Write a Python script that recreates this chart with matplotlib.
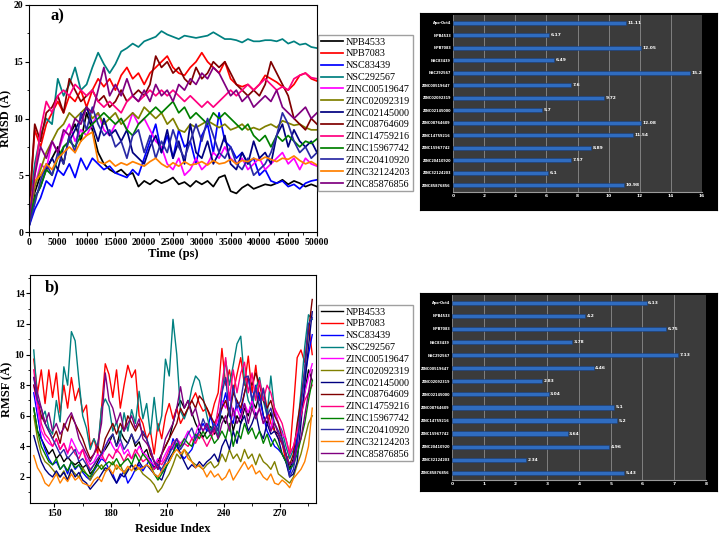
import matplotlib.pyplot as plt
from matplotlib.ticker import MultipleLocator
import numpy as np

# nombres y colores de cada sistema
names = ['NPB4533', 'NPB7083', 'NSC83439', 'NSC292567', 'ZINC00519647', 'ZINC02092319',
         'ZINC02145000', 'ZINC08764609', 'ZINC14759216', 'ZINC15967742', 'ZINC20410920',
         'ZINC32124203', 'ZINC85876856']
colors = ['#000000', '#ff0000', '#0000ff', '#008080', '#ff00ff', '#808000',
          '#000080', '#800000', '#ff0080', '#008000', '#2a2aa5', '#ff8000', '#800080']

# RMSD (A) cada 1000 ps
time_ps = list(range(0, 50001, 1000))
rmsd_npb4533 = [0.5, 3.5, 5.0, 5.5, 6.5, 7.5, 6.0, 8.5, 9.5, 8.0,
                10.5, 9.0, 7.0, 6.0, 5.5, 5.2, 5.5, 5.0, 5.2, 4.0,
                4.5, 4.2, 4.6, 4.3, 4.5, 4.8, 4.2, 4.4, 4.0, 4.5,
                4.2, 4.5, 4.0, 4.8, 5.0, 3.6, 3.4, 3.9, 4.2, 3.8,
                4.0, 4.2, 4.1, 4.3, 4.6, 4.2, 4.5, 4.3, 4.0, 4.2, 4.0]
rmsd_npb7083 = [2.0, 9.0, 7.5, 9.5, 10.5, 11.5, 10.5, 12.0, 11.5, 12.5,
                11.0, 12.5, 13.5, 12.8, 13.5, 12.5, 13.8, 14.5, 13.5, 14.0,
                13.0, 14.0, 14.5, 15.0, 15.5, 14.5, 14.0, 13.8, 14.5, 15.0,
                15.8, 15.0, 14.5, 14.0, 15.0, 13.5, 13.0, 12.8, 13.0, 12.5,
                13.0, 13.8, 13.5, 13.2, 12.8, 12.5, 13.0, 13.8, 14.0, 13.5, 13.3]
rmsd_nsc83439 = [0.5, 2.0, 3.0, 4.5, 4.0, 5.5, 5.0, 6.0, 4.8, 6.5,
                 5.5, 6.5, 6.0, 5.5, 5.8, 5.2, 5.0, 4.8, 5.5, 5.0,
                 6.5, 8.0, 9.5, 7.0, 8.5, 6.5, 9.0, 7.5, 8.0, 6.0,
                 8.5, 9.5, 7.0, 10.5, 8.0, 7.5, 6.5, 7.0, 6.0, 6.5,
                 5.0, 5.5, 4.5, 4.3, 4.5, 4.0, 4.2, 3.8, 4.3, 4.5, 4.6]
rmsd_nsc292567 = [1.5, 6.0, 8.5, 10.0, 9.5, 13.5, 12.0, 13.0, 14.5, 12.5,
                  13.0, 14.5, 15.8, 14.8, 14.0, 14.8, 15.9, 16.2, 16.6, 16.3,
                  16.8, 17.0, 17.2, 17.7, 17.4, 17.2, 17.0, 17.3, 17.2, 17.1,
                  17.2, 17.3, 17.6, 17.3, 17.0, 17.0, 16.9, 16.7, 17.0, 16.8,
                  16.8, 16.9, 16.9, 16.8, 17.0, 16.6, 16.8, 16.5, 16.6, 16.3, 16.2]
rmsd_z00519647 = [1.0, 4.0, 6.0, 5.5, 8.0, 7.0, 8.5, 9.5, 8.0, 9.0,
                  8.5, 9.5, 10.5, 9.0, 8.5, 9.5, 10.0, 9.0, 10.5, 9.5,
                  10.0, 9.0, 8.0, 7.5, 6.0, 5.5, 6.5, 5.0, 5.5, 6.5,
                  5.5, 6.0, 7.0, 6.5, 7.5, 6.5, 6.0, 6.5, 5.5, 6.0,
                  6.5, 5.5, 6.0, 6.5, 7.0, 6.0, 6.5, 5.5, 6.5, 6.0, 5.8]
rmsd_z02092319 = [1.0, 4.0, 5.5, 7.0, 8.0, 9.0, 9.5, 10.5, 10.0, 10.5,
                  11.0, 10.0, 10.5, 9.5, 10.0, 10.5, 9.5, 10.0, 10.5, 10.0,
                  11.0, 10.5, 10.0, 10.5, 9.5, 10.0, 9.0, 8.8, 9.5, 9.2,
                  9.5, 9.8, 9.5, 9.2, 9.5, 9.0, 9.2, 9.5, 9.0, 9.2,
                  9.0, 9.3, 9.5, 9.2, 9.8, 9.6, 9.4, 9.5, 9.2, 9.0, 9.0]
rmsd_z02145000 = [0.5, 3.0, 4.0, 5.5, 6.5, 5.5, 7.5, 8.0, 9.0, 10.0,
                  11.0, 9.5, 8.0, 10.0, 8.5, 9.0, 8.0, 9.0, 7.0, 6.5,
                  6.0, 7.5, 8.5, 7.0, 9.0, 6.5, 8.0, 6.0, 9.5, 7.0,
                  6.5, 8.0, 6.0, 7.0, 8.5, 6.0, 5.5, 7.0, 6.0, 8.0,
                  6.5, 7.0, 6.0, 8.5, 9.5, 7.5, 9.0, 8.0, 7.5, 8.0, 7.0]
rmsd_z08764609 = [1.5, 9.5, 8.0, 10.5, 11.0, 12.0, 10.5, 13.5, 12.5, 11.5,
                  12.0, 12.5, 11.5, 12.0, 11.0, 11.5, 12.5, 11.5, 12.0, 12.5,
                  12.0, 13.0, 15.5, 14.5, 15.0, 14.0, 14.5, 13.5, 13.0, 14.5,
                  13.5, 14.0, 15.0, 14.5, 15.0, 14.0, 13.0, 12.5, 12.0, 12.5,
                  12.0, 13.0, 15.0, 14.0, 13.0, 12.0, 10.0, 9.5, 9.0, 10.0, 9.5]
rmsd_z14759216 = [1.5, 5.0, 9.0, 11.5, 10.5, 12.0, 12.5, 12.0, 13.0, 12.5,
                  12.0, 12.5, 11.5, 11.0, 11.5, 11.0, 10.5, 11.5, 12.0, 11.5,
                  12.0, 12.5, 12.0, 12.5, 12.0, 12.5, 12.0, 11.5, 12.0, 11.5,
                  11.0, 11.5, 11.0, 11.5, 12.0, 12.5, 12.0, 12.5, 13.0, 12.5,
                  13.0, 13.5, 13.0, 12.5, 12.8, 12.5, 13.5, 13.8, 14.0, 13.6, 13.5]
rmsd_z15967742 = [1.0, 3.0, 4.0, 5.5, 5.0, 6.5, 7.5, 8.0, 7.5, 8.5,
                  9.0, 9.5, 10.0, 10.5, 10.0, 9.5, 10.0, 9.0, 8.5, 9.5,
                  10.0, 10.5, 11.0, 10.5, 11.0, 11.5, 10.5, 11.0, 10.0, 10.5,
                  10.0, 9.5, 10.5, 10.0, 10.5, 10.0, 9.5, 9.0, 9.5, 8.5,
                  8.0, 8.5, 7.5, 8.5, 8.0, 8.5, 8.0, 7.5, 8.0, 7.8, 8.2]
rmsd_z20410920 = [0.5, 2.5, 4.5, 6.0, 5.0, 7.0, 6.0, 8.5, 7.0, 10.5,
                  9.0, 11.0, 9.5, 8.5, 9.0, 7.5, 8.0, 6.5, 8.5, 9.0,
                  7.0, 8.5, 6.5, 8.0, 7.0, 9.0, 7.5, 6.5, 8.0, 9.5,
                  8.0, 10.0, 8.5, 7.0, 6.5, 7.5, 6.0, 5.5, 6.5, 5.0,
                  5.5, 6.0, 7.0, 8.5, 10.5, 9.5, 8.0, 7.0, 7.5, 6.5, 7.0]
rmsd_z32124203 = [2.0, 4.5, 5.0, 6.0, 5.5, 6.5, 7.0, 7.5, 7.0, 8.0,
                  8.5, 8.8, 6.2, 6.0, 6.3, 5.8, 6.1, 5.9, 6.2, 6.0,
                  5.8, 6.2, 6.5, 6.0, 5.7, 6.1, 5.8, 6.2, 5.9, 6.0,
                  6.2, 5.9, 6.3, 6.0, 6.1, 6.4, 6.0, 6.3, 6.2, 6.5,
                  6.3, 6.6, 6.4, 6.2, 6.5, 6.4, 6.7, 6.3, 6.0, 6.2, 5.9]
rmsd_z85876856 = [1.0, 5.0, 7.5, 6.5, 8.0, 7.0, 9.0, 8.5, 10.0, 9.5,
                  11.0, 10.5, 12.5, 14.5, 12.0, 13.0, 12.0, 13.5, 12.0, 11.5,
                  12.5, 11.5, 13.0, 12.0, 12.5, 11.5, 13.0, 12.5, 13.5, 13.0,
                  14.0, 13.5, 14.5, 14.0, 13.0, 12.0, 12.5, 11.5, 12.0, 11.0,
                  11.5, 12.0, 11.5, 12.5, 11.0, 10.5, 10.0, 10.5, 11.0, 10.0, 10.5]

# RMSF (A) cada 2 residuos
residues = list(range(139, 288, 2))
rmsf_npb4533 = [6.5, 5.0, 4.5, 4.0, 3.5, 3.8, 3.2, 3.5, 3.0, 3.3,
                3.0, 2.8, 3.0, 2.6, 2.8, 2.2, 2.5, 3.0, 3.5, 3.8,
                4.2, 4.8, 4.0, 5.0, 4.5, 4.2, 4.8, 4.0, 4.3, 3.5,
                3.8, 3.0, 2.6, 3.0, 3.5, 4.0, 4.5, 5.5, 6.5, 7.0,
                6.5, 7.0, 6.2, 5.5, 5.0, 4.6, 5.0, 5.3, 4.8, 5.2,
                6.0, 5.5, 6.5, 5.0, 6.0, 5.5, 6.5, 6.0, 7.0, 6.5,
                7.5, 6.0, 5.5, 6.2, 5.0, 4.8, 4.2, 3.5, 2.5, 3.2,
                4.5, 6.0, 7.5, 9.0, 8.3]
rmsf_npb7083 = [9.7, 7.5, 9.0, 6.8, 9.0, 7.2, 8.8, 6.2, 8.0, 6.5,
                8.5, 7.0, 7.8, 6.2, 6.7, 4.0, 4.5, 3.5, 6.5, 9.4,
                8.7, 7.2, 9.0, 6.5, 8.0, 9.3, 8.5, 9.0, 6.0, 5.5,
                4.5, 5.0, 3.5, 5.5, 4.5, 6.0, 6.8, 5.8, 6.5, 5.5,
                6.0, 6.5, 7.0, 7.5, 6.8, 6.3, 6.5, 5.8, 6.8, 7.5,
                10.4, 8.0, 9.0, 7.5, 8.7, 9.8, 8.0, 9.9, 7.5, 9.3,
                7.0, 7.8, 6.5, 5.5, 5.0, 4.5, 4.2, 3.0, 3.5, 6.5,
                9.8, 10.3, 9.5, 12.0, 10.0]
rmsf_nsc83439 = [7.5, 6.0, 4.5, 3.8, 3.2, 2.8, 3.0, 2.5, 2.8, 2.2,
                 3.0, 2.5, 2.8, 2.3, 2.0, 1.8, 2.4, 2.8, 3.2, 3.0,
                 2.5, 2.2, 1.6, 2.0, 2.4, 1.6, 2.0, 2.5, 2.8, 2.4,
                 2.8, 3.2, 2.5, 2.8, 2.3, 3.0, 3.5, 4.5, 4.0, 3.5,
                 3.2, 3.5, 3.8, 4.5, 5.0, 5.5, 5.0, 6.0, 5.0, 5.5,
                 6.5, 7.5, 6.0, 5.5, 7.0, 6.2, 7.5, 8.5, 7.0, 8.0,
                 7.2, 6.0, 5.0, 4.5, 4.0, 3.8, 3.5, 3.0, 2.2, 3.0,
                 4.5, 7.0, 8.5, 10.0, 11.3]
rmsf_nsc292567 = [10.3, 7.0, 5.8, 6.3, 5.2, 4.8, 7.0, 5.6, 9.2, 8.0,
                  11.5, 10.9, 8.3, 6.0, 5.2, 3.8, 4.5, 3.9, 6.5, 7.1,
                  6.6, 5.0, 5.6, 4.5, 6.2, 5.0, 6.4, 5.5, 7.6, 5.8,
                  6.8, 4.8, 7.2, 5.0, 6.0, 9.7, 8.6, 12.3, 10.0, 6.3,
                  5.8, 6.5, 7.8, 8.6, 8.3, 7.2, 6.0, 5.0, 5.5, 4.6,
                  7.5, 9.6, 8.0, 9.3, 10.7, 11.2, 8.3, 7.0, 6.5, 7.8,
                  8.5, 7.0, 6.0, 8.6, 6.3, 5.5, 5.0, 4.0, 3.2, 3.8,
                  5.0, 7.5, 10.5, 12.6, 12.3]
rmsf_z00519647 = [8.0, 6.5, 5.0, 4.5, 4.2, 4.0, 4.5, 3.8, 4.2, 3.5,
                  4.5, 4.0, 3.5, 3.8, 3.2, 2.8, 3.0, 3.5, 3.2, 4.0,
                  4.5, 4.0, 3.6, 4.2, 3.5, 3.8, 3.2, 3.5, 4.0, 3.6,
                  3.4, 3.0, 2.8, 3.2, 3.0, 3.5, 4.0, 3.8, 4.5, 4.2,
                  4.5, 5.0, 4.5, 4.8, 5.5, 5.0, 5.5, 4.8, 5.2, 5.8,
                  7.0, 6.5, 7.5, 6.0, 6.5, 5.8, 6.8, 6.2, 7.0, 6.0,
                  6.5, 5.5, 6.0, 5.0, 6.5, 5.5, 4.8, 4.5, 3.5, 4.0,
                  5.0, 6.0, 7.5, 8.5, 9.4]
rmsf_z02092319 = [6.0, 4.5, 3.5, 3.0, 2.8, 2.5, 2.2, 2.0, 2.4, 1.8,
                  2.5, 2.2, 2.0, 2.6, 2.2, 1.8, 2.2, 2.5, 2.8, 2.4,
                  2.6, 3.0, 2.5, 2.8, 2.2, 2.5, 2.8, 2.4, 2.6, 2.2,
                  2.0, 1.8, 1.5, 1.0, 1.3, 1.8, 2.2, 2.8, 3.5, 3.2,
                  3.8, 3.5, 3.0, 2.8, 2.7, 2.5, 2.8, 3.0, 2.6, 2.8,
                  3.5, 3.0, 3.8, 3.2, 3.5, 3.0, 3.8, 3.2, 3.5, 2.8,
                  3.5, 3.0, 2.8, 2.5, 3.0, 2.2, 2.0, 1.8, 1.6, 2.0,
                  2.8, 3.5, 4.5, 5.5, 6.0]
rmsf_z02145000 = [4.7, 3.8, 3.0, 2.5, 2.2, 2.0, 2.4, 2.0, 2.3, 1.8,
                  2.5, 2.0, 2.3, 1.8, 1.6, 1.2, 1.5, 1.8, 2.2, 2.6,
                  2.5, 2.0, 1.6, 2.2, 2.0, 2.4, 2.8, 2.5, 3.0, 2.6,
                  2.8, 2.5, 2.2, 2.0, 1.8, 2.5, 3.2, 3.6, 4.2, 3.5,
                  3.0, 2.5, 2.8, 2.6, 3.0, 2.7, 3.0, 3.2, 3.5, 3.0,
                  4.0, 4.5, 3.8, 5.0, 4.2, 5.5, 6.0, 5.0, 5.5, 6.2,
                  5.0, 4.5, 5.5, 4.8, 5.0, 4.5, 3.5, 3.0, 2.0, 2.2,
                  3.0, 5.5, 8.0, 10.5, 12.8]
rmsf_z08764609 = [8.0, 7.0, 6.0, 5.5, 5.0, 4.5, 5.0, 4.2, 5.5, 5.0,
                  6.0, 5.5, 5.0, 4.5, 3.8, 3.2, 3.5, 4.0, 3.5, 4.5,
                  5.0, 5.5, 4.8, 5.5, 5.0, 6.0, 5.5, 5.0, 5.5, 4.8,
                  4.5, 3.5, 3.0, 2.5, 3.5, 4.0, 4.5, 5.0, 5.5, 6.5,
                  6.0, 6.5, 7.0, 6.5, 7.3, 7.0, 6.5, 6.0, 5.5, 6.0,
                  6.5, 7.0, 6.0, 7.5, 7.0, 6.5, 7.5, 8.5, 8.0, 8.8,
                  8.0, 7.0, 6.5, 7.0, 6.0, 5.5, 4.5, 3.5, 2.8, 3.5,
                  5.5, 7.0, 9.0, 11.5, 13.6]
rmsf_z14759216 = [9.0, 7.0, 5.5, 4.8, 4.5, 4.0, 4.5, 3.8, 4.2, 3.6,
                  4.0, 3.5, 3.2, 3.8, 3.0, 2.5, 2.8, 3.2, 3.5, 3.0,
                  3.5, 3.2, 3.8, 3.5, 3.0, 3.5, 3.2, 3.8, 3.4, 3.0,
                  3.2, 2.8, 2.5, 3.0, 2.8, 3.2, 3.8, 4.2, 4.5, 4.0,
                  4.2, 4.0, 4.5, 4.2, 4.8, 4.5, 4.0, 4.5, 5.0, 6.5,
                  8.0, 9.8, 7.0, 9.0, 7.5, 8.8, 9.5, 7.5, 8.8, 7.0,
                  8.3, 7.0, 8.0, 7.5, 6.5, 6.0, 5.5, 4.5, 3.5, 4.0,
                  5.0, 6.0, 7.0, 7.5, 8.0]
rmsf_z15967742 = [6.5, 5.0, 4.0, 3.5, 3.0, 2.8, 3.2, 2.5, 2.8, 2.4,
                  3.0, 2.6, 2.8, 2.4, 2.2, 2.0, 2.5, 2.8, 2.5, 2.8,
                  3.0, 2.8, 3.2, 2.7, 3.0, 3.2, 2.8, 3.5, 3.0, 3.5,
                  3.2, 2.8, 2.2, 1.8, 2.2, 2.6, 3.0, 3.5, 4.2, 4.0,
                  4.5, 4.2, 4.0, 4.8, 4.5, 5.0, 4.5, 4.8, 4.2, 4.5,
                  5.0, 4.5, 5.5, 4.0, 5.0, 4.5, 5.5, 4.8, 5.2, 4.5,
                  5.0, 4.2, 4.8, 4.0, 4.5, 4.0, 3.5, 3.0, 2.5, 2.8,
                  3.5, 4.5, 5.5, 7.0, 8.3]
rmsf_z20410920 = [8.5, 7.0, 6.5, 5.5, 5.0, 4.5, 4.0, 3.5, 3.8, 3.2,
                  3.5, 3.8, 3.0, 3.2, 2.8, 2.4, 2.8, 3.2, 3.5, 4.0,
                  4.5, 4.8, 4.0, 4.5, 3.8, 4.2, 4.8, 4.2, 4.5, 5.0,
                  4.5, 3.8, 3.0, 2.8, 2.5, 3.0, 3.5, 4.0, 4.5, 3.8,
                  4.2, 4.8, 5.2, 4.5, 5.0, 5.8, 5.2, 4.8, 5.5, 5.0,
                  7.5, 8.5, 6.0, 8.0, 6.5, 7.0, 8.5, 8.6, 7.0, 7.8,
                  6.5, 7.8, 6.0, 6.5, 5.5, 5.0, 4.5, 3.5, 2.0, 2.5,
                  4.0, 6.5, 9.0, 12.0, 12.4]
rmsf_z32124203 = [3.4, 2.6, 2.2, 1.6, 1.4, 1.8, 2.2, 1.6, 2.0, 1.7,
                  2.2, 1.8, 2.0, 1.6, 1.5, 1.4, 1.8, 2.0, 1.7, 2.3,
                  2.6, 2.2, 2.8, 2.5, 2.3, 2.7, 2.4, 2.8, 2.5, 2.6,
                  2.8, 2.6, 2.2, 2.0, 2.4, 2.8, 3.0, 3.5, 3.8, 3.5,
                  3.8, 3.2, 3.0, 2.6, 2.8, 2.5, 2.0, 2.4, 2.0, 2.2,
                  1.8, 2.0, 2.5, 1.8, 2.2, 2.6, 3.0, 2.5, 2.8, 2.2,
                  2.4, 2.0, 1.8, 2.2, 1.6, 1.5, 1.8, 1.6, 1.3, 1.9,
                  2.2, 2.5, 3.0, 4.0, 6.5]
rmsf_z85876856 = [8.5, 7.5, 6.5, 5.5, 6.2, 5.0, 5.5, 4.8, 5.2, 5.8,
                  6.2, 5.5, 4.5, 4.0, 3.5, 3.0, 3.5, 4.2, 5.5, 8.8,
                  7.0, 6.5, 5.5, 6.2, 5.0, 5.5, 6.0, 5.2, 5.8, 4.5,
                  4.2, 3.8, 3.0, 2.5, 3.5, 4.5, 5.0, 5.5, 6.5, 7.9,
                  6.5, 7.0, 6.0, 6.5, 5.5, 5.0, 5.5, 4.8, 5.2, 4.5,
                  5.5, 6.0, 5.0, 6.5, 5.5, 6.0, 6.8, 5.5, 6.5, 5.8,
                  6.5, 5.5, 6.0, 5.0, 5.5, 4.8, 4.2, 3.5, 2.8, 3.0,
                  4.0, 4.5, 6.0, 7.5, 9.0]

rmsd_all = [rmsd_npb4533, rmsd_npb7083, rmsd_nsc83439, rmsd_nsc292567, rmsd_z00519647,
            rmsd_z02092319, rmsd_z02145000, rmsd_z08764609, rmsd_z14759216, rmsd_z15967742,
            rmsd_z20410920, rmsd_z32124203, rmsd_z85876856]
rmsf_all = [rmsf_npb4533, rmsf_npb7083, rmsf_nsc83439, rmsf_nsc292567, rmsf_z00519647,
            rmsf_z02092319, rmsf_z02145000, rmsf_z08764609, rmsf_z14759216, rmsf_z15967742,
            rmsf_z20410920, rmsf_z32124203, rmsf_z85876856]

# promedios de las barras
bar_labels = ['Apo-Oct4'] + names
rmsd_mean = [11.11, 6.17, 12.05, 6.49, 15.2, 7.6, 9.72, 5.7, 12.08, 11.54, 8.89, 7.57, 6.1, 10.98]
rmsf_mean = [6.13, 4.2, 6.75, 3.78, 7.13, 4.46, 2.83, 3.04, 5.1, 5.2, 3.64, 4.96, 2.34, 5.43]

W, H = 719, 538
plt.rcParams['font.family'] = 'Liberation Serif'
fig = plt.figure(figsize=(W / 100, H / 100), dpi=100)


def px(x0, y0, x1, y1):
    # caja en pixeles -> fraccion de la figura
    return [x0 / W, 1 - y1 / H, (x1 - x0) / W, (y1 - y0) / H]


def line_panel(box, x, series, legend_top, lw):
    ax = fig.add_axes(box)
    for y, c, n in zip(series, colors, names):
        ax.plot(x, y, color=c, lw=lw, label=n)
    ax.tick_params(which='both', direction='out', labelsize=7, pad=1)
    ax.tick_params(which='major', length=3)
    ax.tick_params(which='minor', length=1.8)
    fig.legend(loc='upper left', bbox_to_anchor=(318 / W, 1 - legend_top / H),
               handles=ax.get_lines(), fontsize=7.3, frameon=True, fancybox=False,
               edgecolor='#a0a0a0', framealpha=1, handlelength=2.2, handletextpad=0.3,
               labelspacing=0.27, borderpad=0.25, borderaxespad=0)
    return ax


def bold_ticks(ax):
    for lab in ax.get_xticklabels() + ax.get_yticklabels():
        lab.set_fontweight('bold')


def bar_panel(box, area, values, xmax, step):
    back = fig.add_axes(box)
    back.set_facecolor('black')
    back.set_xticks([])
    back.set_yticks([])
    ax = fig.add_axes(area)
    ax.set_facecolor('#3b3b3b')
    pos = np.arange(len(bar_labels))
    ax.barh(pos, values, height=0.32, color='#2f6cc0', edgecolor='#1b3f78', linewidth=0.4)
    for p, v in zip(pos, values):
        ax.text(v + xmax * 0.006, p, f'{v:g}', color='white', fontsize=3.2,
                va='center', fontweight='bold', family='DejaVu Sans')
    ax.set_yticks(pos)
    ax.set_yticklabels(bar_labels)
    ax.set_ylim(13.55, -0.6)
    ax.set_xlim(0, xmax)
    ax.set_xticks(np.arange(0, xmax + 1, step))
    ax.tick_params(colors='white', length=0, pad=1.5)
    ax.tick_params(axis='x', labelsize=3.2)
    ax.tick_params(axis='y', labelsize=2.5)
    for lab in ax.get_xticklabels() + ax.get_yticklabels():
        lab.set_family('DejaVu Sans')
        lab.set_fontweight('bold')
    ax.grid(axis='x', color='#8c8c8c', lw=0.6)
    ax.set_axisbelow(True)
    for s in ax.spines.values():
        s.set_visible(False)
    ax.spines['bottom'].set_visible(True)
    ax.spines['bottom'].set_color('#9a9a9a')


# a) RMSD
ax1 = line_panel(px(29, 5, 317, 232), time_ps, rmsd_all, 35, 1.25)
ax1.set_xlim(0, 50000)
ax1.set_ylim(0, 20)
ax1.xaxis.set_major_locator(MultipleLocator(5000))
ax1.xaxis.set_minor_locator(MultipleLocator(2500))
ax1.yaxis.set_major_locator(MultipleLocator(5))
ax1.yaxis.set_minor_locator(MultipleLocator(2.5))
bold_ticks(ax1)
ax1.set_xlabel('Time (ps)', fontsize=9, fontweight='bold', labelpad=1)
ax1.set_ylabel('RMSD (Å)', fontsize=9, fontweight='bold', labelpad=1)
ax1.text(0.073, 0.93, 'a)', transform=ax1.transAxes, fontsize=12, fontweight='bold')

# b) RMSF
ax2 = line_panel(px(30, 275, 316, 503), residues, rmsf_all, 305, 1.0)
ax2.set_xlim(137, 289)
ax2.set_ylim(0.3, 15.2)
ax2.xaxis.set_major_locator(MultipleLocator(30))
ax2.xaxis.set_minor_locator(MultipleLocator(15))
ax2.yaxis.set_major_locator(MultipleLocator(2))
ax2.yaxis.set_minor_locator(MultipleLocator(1))
bold_ticks(ax2)
ax2.set_xlabel('Residue Index', fontsize=9, fontweight='bold', labelpad=4)
ax2.set_ylabel('RMSF (Å)', fontsize=9, fontweight='bold', labelpad=1)
ax2.text(0.052, 0.93, 'b)', transform=ax2.transAxes, fontsize=12, fontweight='bold')

# barras de promedios
bar_panel(px(420, 13, 717, 210), px(453, 15, 702, 192), rmsd_mean, 16, 2)
bar_panel(px(420, 293, 717, 491), px(452, 295, 706, 480), rmsf_mean, 8, 1)

plt.savefig('out.png', dpi=100)
plt.close()
